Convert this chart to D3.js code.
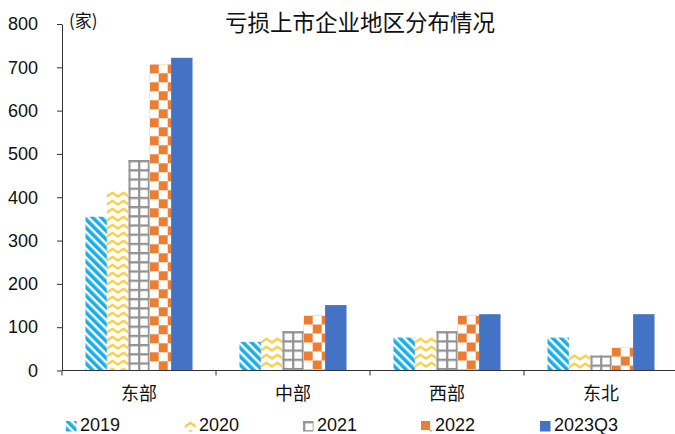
<!DOCTYPE html>
<html><head><meta charset="utf-8">
<script src="https://cdn.jsdelivr.net/npm/d3@7"></script>
<style>body{margin:0;background:#fff;} svg{display:block;font-family:"Liberation Sans",Arial,sans-serif;}</style>
</head><body>
<svg id="c" width="675" height="434"></svg>
<script>
const categories = ["东部","中部","西部","东北"];
const seriesNames = ["2019","2020","2021","2022","2023Q3"];
const v2019 = [355, 66, 76, 76];
const v2020 = [415, 78, 78, 39];
const v2021 = [486, 91, 91, 35];
const v2022 = [707, 127, 127, 53];
const v2023Q3 = [722, 151, 130, 130];
const yTicks = [0,100,200,300,400,500,600,700,800];
const title = "亏损上市企业地区分布情况";
const unit = "(家)";

const series = [v2019, v2020, v2021, v2022, v2023Q3];

const svg = d3.select("#c");
const defs = svg.append("defs");

const mLeft = 62, mRight = 678, mTop = 24, mBottom = 370.5;
const x0 = d3.scaleBand().domain(categories).range([mLeft,mRight]).paddingInner(0.305).paddingOuter(0.1525);
const x1 = d3.scaleBand().domain(seriesNames).range([0,x0.bandwidth()]);
const y = d3.scaleLinear().domain([0,800]).range([mBottom,mTop]);

// pattern makers (offset aligned to each mark's left edge)
function makePattern(kind, id, ox, oy){
  let p;
  if(kind===0){
    p = defs.append("pattern").attr("id",id).attr("patternUnits","userSpaceOnUse")
      .attr("width",6).attr("height",6).attr("patternTransform","rotate(-45)");
    p.append("rect").attr("width",6).attr("height",6).attr("fill","#fff");
    p.append("rect").attr("width",3.6).attr("height",6).attr("fill","#1AAEE8");
  } else if(kind===1){
    p = defs.append("pattern").attr("id",id).attr("patternUnits","userSpaceOnUse").attr("x",ox).attr("y",oy).attr("width",11).attr("height",8);
    p.append("rect").attr("width",11).attr("height",8).attr("fill","#fff");
    p.append("path").attr("d","M-1,6.5 L5.5,2 L12,6.5").attr("fill","none").attr("stroke","#FFC624").attr("stroke-width",2);
  } else if(kind===2){
    p = defs.append("pattern").attr("id",id).attr("patternUnits","userSpaceOnUse").attr("x",ox).attr("y",oy).attr("width",9.7).attr("height",9.2);
    p.append("rect").attr("width",9.7).attr("height",9.2).attr("fill","#fff");
    p.append("path").attr("d","M1.2,0 V9.2 M0,1.2 H9.7").attr("stroke","#929292").attr("stroke-width",2.2);
  } else if(kind===3){
    p = defs.append("pattern").attr("id",id).attr("patternUnits","userSpaceOnUse").attr("x",ox).attr("y",oy).attr("width",18).attr("height",18);
    p.append("rect").attr("width",18).attr("height",18).attr("fill","#fff");
    p.append("rect").attr("width",9).attr("height",9).attr("fill","#ED7D31");
    p.append("rect").attr("x",9).attr("y",9).attr("width",9).attr("height",9).attr("fill","#ED7D31");
  }
  return "url(#"+id+")";
}

// bars
const g = svg.append("g");
seriesNames.forEach((s,si)=>{
  g.selectAll(null).data(categories).enter().append("rect")
    .attr("x",c=>x0(c)+x1(s))
    .attr("width",x1.bandwidth())
    .attr("y",(c,i)=>y(series[si][i]))
    .attr("height",(c,i)=>mBottom-y(series[si][i]))
    .attr("fill",(c,i)=> si===4 ? "#4472C4" : makePattern(si,"p"+si+"_"+i, x0(c)+x1(s), y(series[si][i])));
});

// y axis
const ya = svg.append("g").attr("transform",`translate(${mLeft},0)`)
  .call(d3.axisLeft(y).tickValues(yTicks).tickSize(5).tickPadding(19).tickSizeOuter(0));
ya.select(".domain").attr("stroke","#333");
ya.selectAll(".tick line").attr("stroke","#333");
ya.selectAll(".tick text").attr("font-size",18).attr("fill","#111").attr("font-family","Liberation Sans, Arial, sans-serif");

// x axis
const xa = svg.append("g").attr("transform",`translate(0,${mBottom})`);
xa.append("line").attr("x1",mLeft).attr("x2",mRight).attr("stroke","#333");
const step = x0.step();
const bounds = d3.range(categories.length+1).map(i=>mLeft+i*step);
xa.selectAll(null).data(bounds).enter().append("line")
  .attr("x1",d=>d).attr("x2",d=>d).attr("y1",0).attr("y2",5).attr("stroke","#333");
xa.selectAll(null).data(categories).enter().append("text")
  .attr("x",c=>x0(c)+x0.bandwidth()/2).attr("y",29)
  .attr("text-anchor","middle").attr("font-size",18).attr("fill","#111")
  .attr("font-family","Noto Sans CJK SC, sans-serif").text(c=>c);

// title
svg.append("text").attr("x",360).attr("y",31).attr("text-anchor","middle")
  .attr("font-size",22.5).attr("fill","#111").attr("font-family","Noto Sans CJK SC, sans-serif").text(title);
svg.append("text").attr("x",69).attr("y",27)
  .attr("font-size",17).attr("fill","#111").attr("font-family","Noto Sans CJK SC, sans-serif").text(unit);

// legend
const legX = [66, 185, 303, 421, 540];
const leg = svg.append("g");
seriesNames.forEach((s,i)=>{
  const f = i===4 ? "#4472C4" : makePattern(i,"leg"+i, legX[i], 421);
  leg.append("rect").attr("x",legX[i]).attr("y",421).attr("width",10.5).attr("height",10.5).attr("fill",f);
  leg.append("text").attr("x",legX[i]+14).attr("y",431).attr("font-size",18).attr("fill","#111").text(s);
});
</script>
</body></html>
